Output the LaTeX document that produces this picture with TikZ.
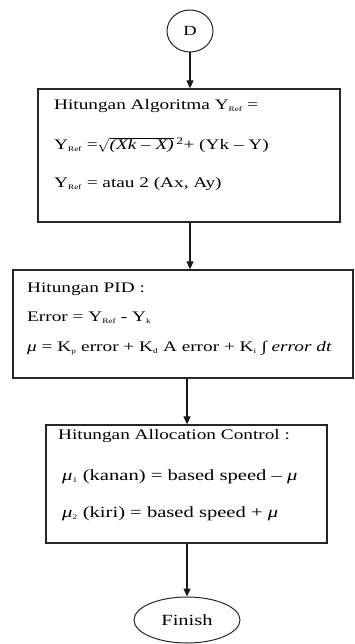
\documentclass[tikz,border=0pt]{standalone}
\usepackage{fontspec}
\setmainfont{Liberation Serif}[FakeStretch=1.32]
\usetikzlibrary{arrows.meta, shapes.geometric}

% small index after a capital, as in Y_Ref or K_p
\newcommand{\idx}[1]{\textsubscript{\scriptsize #1}}

\tikzset{
    box/.style={draw=black!85, line width=1.3pt, inner sep=0pt},
    term/.style={draw=black!85, line width=1pt, ellipse, inner sep=0pt},
    line/.style={anchor=west, inner sep=0pt, font=\fontsize{14.6}{17}\selectfont},
    bigline/.style={line, font=\fontsize{15.6}{18}\selectfont},
    flow/.style={-{Triangle[width=7pt, length=8pt]}, line width=1.2pt, black!90}
}

\begin{document}
\begin{tikzpicture}[x=1pt, y=-1pt]

    % ==========================================
    % Canvas (pixel grid of the original)
    % ==========================================
    \useasboundingbox (0,0) rectangle (355,644);

    % ==========================================
    % Start connector and boxes
    % ==========================================
    \node[term, minimum width=46pt, minimum height=42pt, font=\fontsize{14}{16}\selectfont] (D) at (190,31) {D};

    \node[box, minimum width=302pt, minimum height=133pt] (algo) at (189,155.5) {};
    \node[box, minimum width=340pt, minimum height=108pt] (pid) at (183,324) {};
    \node[box, minimum width=281pt, minimum height=118pt] (alloc) at (186.5,484) {};

    \node[term, minimum width=106pt, minimum height=46pt, font=\fontsize{15.5}{18}\selectfont] (finish) at (187,620) {Finish};

    % ==========================================
    % Texts inside the boxes
    % ==========================================
    % Hitungan Algoritma
    \node[line] (algo1) at (54,106) {Hitungan Algoritma Y\idx{Ref} =};
    \node[line] (algo2) at (54,145) {Y\idx{Ref} =$\sqrt{\textit{(Xk -- X)}}$\,\textsuperscript{2}+ (Yk -- Y)};
    \node[line] (algo3) at (54,184) {Y\idx{Ref} = atau 2 (Ax, Ay)};

    % Hitungan PID
    \node[line] (pid1) at (27,289) {Hitungan PID :};
    \node[line] (pid2) at (27,318) {Error = Y\idx{Ref} - Y\idx{k}};
    \node[line] (pid3) at (27,348) {\textit{μ} = K\idx{p} error + K\idx{d} A error + K\idx{i} ∫ \textit{error dt}};

    % Hitungan Allocation Control
    \node[line] (alloc1) at (58,436) {Hitungan Allocation Control :};
    \node[bigline] (alloc2) at (62,477) {\textit{μ}\idx{1} (kanan) = based speed -- \textit{μ}};
    \node[bigline] (alloc3) at (62,514) {\textit{μ}\idx{2} (kiri) = based speed + \textit{μ}};

    % ==========================================
    % Flow arrows
    % ==========================================
    \draw[flow] (D.south) -- (D.south |- algo.north);
    \draw[flow] (algo.south -| D.south) -- (D.south |- pid.north);
    \draw[flow] (pid.south -| finish.north) -- (finish.north |- alloc.north);
    \draw[flow] (alloc.south -| finish.north) -- (finish.north);

\end{tikzpicture}
\end{document}
